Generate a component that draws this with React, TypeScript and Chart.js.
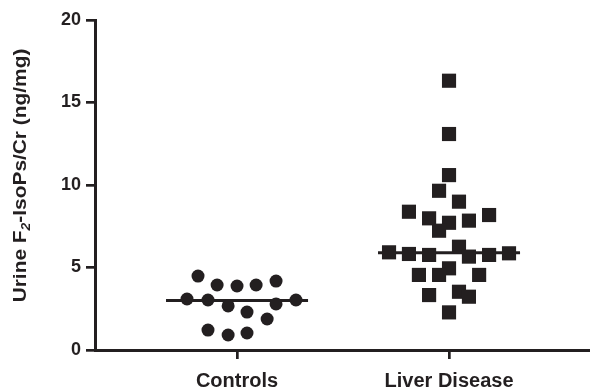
import React, { useEffect, useRef } from 'react';
import { Chart, registerables } from 'chart.js';

Chart.register(...registerables);

const INK = '#231f20';

const categories = ['Controls', 'Liver Disease'];

// Controls group: jitter offsets from the category centre and values
const controlsOffset = [-0.184, -0.094, 0.0, 0.09, 0.184, -0.236, -0.137, -0.042, 0.047, 0.142, 0.184, 0.278, -0.137, -0.042, 0.047];
const controlsValues = [4.48, 3.94, 3.88, 3.94, 4.18, 3.09, 3.03, 2.67, 2.3, 1.88, 2.79, 3.03, 1.21, 0.91, 1.03];

// Liver disease group
const liverOffset = [0, 0, 0, -0.047, 0.047, -0.189, -0.094, 0, 0.094, 0.189, -0.047, -0.283, -0.189, -0.094, 0.047, 0.094, 0.189, 0.283, 0, -0.047, -0.142, 0.142, -0.094, 0.047, 0.094, 0];
const liverValues = [16.32, 13.09, 10.6, 9.65, 8.99, 8.38, 7.98, 7.71, 7.84, 8.18, 7.23, 5.92, 5.82, 5.76, 6.26, 5.66, 5.76, 5.86, 4.95, 4.55, 4.55, 4.55, 3.33, 3.53, 3.23, 2.28];

const medians = [3.0, 5.9];
const medianHalfWidth = 0.335;

const yTicks = [0, 5, 10, 15, 20];

const titlePlugin = {
  id: 'yTitle',
  afterDraw(chart: any) {
    const ctx = chart.ctx as CanvasRenderingContext2D;
    const area = chart.chartArea;
    const big = 'bold 18px "Liberation Sans", Arial, Helvetica, sans-serif';
    const sub = 'italic bold 12px "Liberation Sans", Arial, Helvetica, sans-serif';
    const parts: [string, string, number][] = [
      ['Urine F', big, 0],
      ['2', sub, 4],
      ['-IsoPs/Cr (ng/mg)', big, 0],
    ];
    ctx.save();
    let total = 0;
    const widths = parts.map(([t, f]) => {
      ctx.font = f;
      const w = ctx.measureText(t).width;
      total += w;
      return w;
    });
    const cy = (area.top + area.bottom) / 2 - 9.5;
    ctx.translate(25.5, cy);
    ctx.rotate(-Math.PI / 2);
    ctx.scale(1.16, 1);
    ctx.fillStyle = INK;
    ctx.textBaseline = 'alphabetic';
    ctx.textAlign = 'left';
    let x = -total / 2;
    parts.forEach(([t, f, dy], i) => {
      ctx.font = f;
      ctx.fillText(t, x, dy);
      x += widths[i];
    });
    ctx.restore();
  },
};

export default function App() {
  const ref = useRef<HTMLCanvasElement>(null);

  useEffect(() => {
    document.body.style.margin = '0';
    if (!ref.current) return;

    const controlsData = controlsValues.map((v, i) => ({ x: 1 + controlsOffset[i], y: v }));
    const liverData = liverValues.map((v, i) => ({ x: 2 + liverOffset[i], y: v }));
    const medianSets = medians.map((m, i) => ({
      type: 'line' as const,
      data: [
        { x: i + 1 - medianHalfWidth, y: m },
        { x: i + 1 + medianHalfWidth, y: m },
      ],
      showLine: true,
      borderColor: INK,
      borderWidth: 3,
      pointRadius: 0,
      fill: false,
    }));

    const chart = new Chart(ref.current, {
      type: 'scatter',
      data: {
        datasets: [
          {
            label: categories[0],
            data: controlsData,
            pointStyle: 'circle',
            pointRadius: 6.5,
            pointBackgroundColor: INK,
            pointBorderWidth: 0,
          },
          {
            label: categories[1],
            data: liverData,
            pointStyle: 'rect',
            pointRadius: 10,
            pointBackgroundColor: INK,
            pointBorderWidth: 0,
          },
          ...medianSets,
        ] as any,
      },
      options: {
        animation: false,
        responsive: false,
        layout: { autoPadding: false, padding: { top: 20, right: 0, bottom: 0, left: 0 } },
        plugins: {
          legend: { display: false },
          tooltip: { enabled: false },
        },
        scales: {
          x: {
            type: 'linear',
            min: 0.33,
            max: 2.665,
            afterBuildTicks: (s: any) => {
              s.ticks = categories.map((_, i) => ({ value: i + 1 }));
            },
            afterFit: (s: any) => {
              s.height = 38;
            },
            ticks: {
              autoSkip: false,
              maxRotation: 0,
              color: INK,
              padding: 10,
              font: { family: '"Liberation Sans", Arial, Helvetica, sans-serif', size: 20, weight: 'bold' },
              callback: (v: any) => categories[Math.round(Number(v)) - 1] ?? '',
            },
            grid: {
              display: true,
              drawOnChartArea: false,
              drawTicks: true,
              tickLength: 9,
              color: INK,
              lineWidth: 2.7,
            },
            border: { display: true, color: INK, width: 3 },
          },
          y: {
            type: 'linear',
            min: 0,
            max: 20,
            afterBuildTicks: (s: any) => {
              s.ticks = yTicks.map((v) => ({ value: v }));
            },
            afterFit: (s: any) => {
              s.width = 95;
            },
            ticks: {
              color: INK,
              padding: 5,
              font: { family: '"Liberation Sans", Arial, Helvetica, sans-serif', size: 18, weight: 'bold' },
            },
            grid: {
              display: true,
              drawOnChartArea: false,
              drawTicks: true,
              tickLength: 9,
              color: INK,
              lineWidth: 2.7,
            },
            border: { display: true, color: INK, width: 3 },
          },
        },
      },
      plugins: [titlePlugin],
    });

    return () => chart.destroy();
  }, []);

  return <canvas ref={ref} width={590} height={388} style={{ display: 'block' }} />;
}
